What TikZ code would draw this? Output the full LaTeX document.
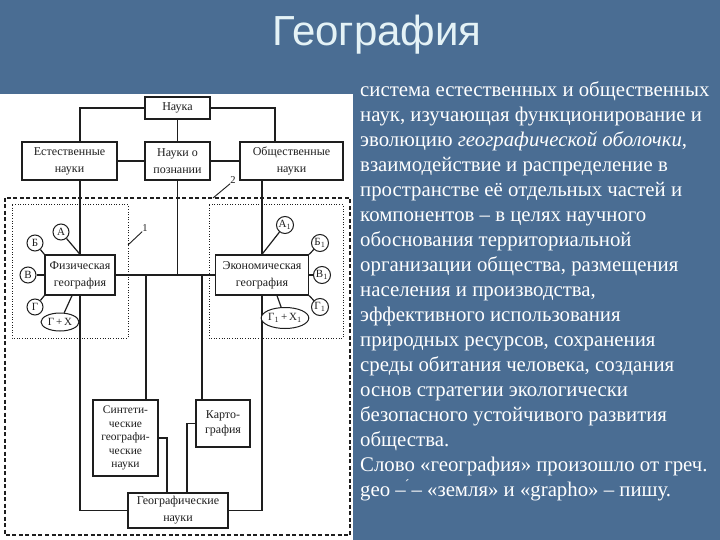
\documentclass[tikz,border=0pt]{standalone}
\usepackage{fontspec}
\setmainfont{Liberation Serif}
\newfontfamily\titlefont{Liberation Sans}
\usetikzlibrary{calc,shapes.geometric}
\definecolor{bg}{HTML}{4A6D93}
\definecolor{titlec}{HTML}{E4F2F6}
\definecolor{ink}{HTML}{1E1E1E}
\begin{document}
\begin{tikzpicture}[x=1pt,y=-1pt,
  box/.style={draw=ink, line width=1.3pt, fill=white, align=center, text=ink,
    font=\fontsize{12}{17}\selectfont, inner sep=1pt},
  conn/.style={draw=ink, line width=1.2pt},
  lett/.style={circle, draw=ink, line width=1pt, fill=white, minimum size=16pt,
    inner sep=0pt, text=ink, font=\fontsize{11}{12}\selectfont},
  ell/.style={ellipse, draw=ink, line width=1pt, fill=white, inner sep=0pt, text=ink,
    font=\fontsize{11}{12}\selectfont},
  outer/.style={draw=ink, line width=1.3pt, dash pattern=on 4pt off 2.5pt},
  inner/.style={draw=ink, line width=1pt, dash pattern=on 1pt off 1.6pt},
  num/.style={text=ink, font=\fontsize{10.5}{12}\selectfont, inner sep=0pt},
  body/.style={anchor=base west, text=white, font=\fontsize{20.8}{25}\selectfont, inner sep=0pt}]

% background
\fill[bg] (0,0) rectangle (720,540);
\useasboundingbox (0,0) rectangle (720,540);
\fill[white] (0,94) rectangle (353,540);

% title
\node[anchor=base west, text=titlec, inner sep=0pt, font=\titlefont\fontsize{42}{46}\selectfont] (title) at (272,46) {География};

% frames
\draw[outer] (5,198) rectangle (350,535);
\draw[inner] (12,205) rectangle (128,338);
\draw[inner] (209,205) rectangle (343,338);

% boxes
\node[box, minimum width=65pt, minimum height=22pt] (nauka) at (177.5,108) {Наука};
\node[box, minimum width=95pt, minimum height=38pt] (estest) at (69.5,161) {Естественные\\науки};
\node[box, minimum width=65pt, minimum height=38pt] (poz) at (177.5,161) {Науки о\\познании};
\node[box, minimum width=103pt, minimum height=38pt] (obsch) at (291.5,161) {Общественные\\науки};
\node[box, minimum width=70pt, minimum height=40pt] (phys) at (80,275) {Физическая\\география};
\node[box, minimum width=93pt, minimum height=40pt] (econ) at (262,275) {Экономическая\\география};
\node[box, minimum width=65pt, minimum height=76pt, font=\fontsize{11.5}{13.5}\selectfont] (synt) at (125.5,438) {Синтети-\\ческие\\географи-\\ческие\\науки};
\node[box, minimum width=54pt, minimum height=47pt, font=\fontsize{12}{14.5}\selectfont] (karto) at (223,423.5) {Карто-\\графия};
\node[box, minimum width=100pt, minimum height=35pt] (geo) at (178,510.5) {Географические\\науки};

% junction coordinates
\coordinate (j1) at (146,275);
\coordinate (j2) at (202,275);
\coordinate (nr) at (275,108);

% connectors
\draw[conn] (nauka.west) -| (phys.north |- estest.north);
\draw[conn] (nauka.east) -- (nr) -- (nr |- obsch.north);
\draw[conn] (nauka.south) -- (poz.north);
\draw[conn] (estest.east) -- (poz.west);
\draw[conn] (poz.east) -- (obsch.west);
\draw[conn] (phys.north |- estest.south) -- (phys.north);
\draw[conn] (econ.north |- obsch.south) -- (econ.north);
\draw[conn] (poz.south) -- (poz.south |- phys.east);
\draw[conn] (phys.east) -- (econ.west);
\draw[conn] (j1) -- (j1 |- synt.north);
\draw[conn] (j2) -- (j2 |- karto.north);
\draw[conn] (phys.south) -- (phys.south |- geo.west) -- (geo.west);
\draw[conn] (econ.south) -- (econ.south |- geo.east) -- (geo.east);
\draw[conn] (synt.east) -| ($(geo.north)+(-11,0)$);
\draw[conn] (karto.west) -| ($(geo.north)+(9,0)$);

% physical geography components
\node[lett] (pa) at (61,232) {А};
\node[lett] (pb) at (35,243) {Б};
\node[lett] (pv) at (28,275) {В};
\node[lett] (pg) at (35,307) {Г};
\node[ell, minimum width=38pt, minimum height=18pt] (pgx) at (60,322) {Г\,+\,Х};
\draw[conn] (pa) -- (phys.north);
\draw[conn] (pb) -- (phys.north west);
\draw[conn] (pv) -- (phys.west);
\draw[conn] (pg) -- (phys.south west);
\draw[conn] (pgx) -- ($(phys.south)+(-8,0)$);

% economic geography components
\node[lett, minimum size=17pt] (ea) at (285,225) {А$_1$};
\node[lett, minimum size=17pt] (eb) at (320,243) {Б$_1$};
\node[lett, minimum size=17pt] (ev) at (322,275) {В$_1$};
\node[lett, minimum size=17pt] (eg) at (320,307) {Г$_1$};
\node[ell, minimum width=42pt, minimum height=21pt] (egx) at (285,318) {Г$_1$\,+\,Х$_1$};
\draw[conn] (ea) -- (econ.north);
\draw[conn] (eb) -- (econ.north east);
\draw[conn] (ev) -- (econ.east);
\draw[conn] (eg) -- (econ.south east);
\draw[conn] (egx) -- ($(econ.south)+(15,0)$);

% labels 1 and 2
\node[num] (l1) at (145,228) {1};
\node[num] (l2) at (233,180) {2};
\coordinate (l1s) at (128,245);
\coordinate (l2s) at (213,198);
\draw[ink, line width=0.9pt] (l1s) -- (l1.south west);
\draw[ink, line width=0.9pt] (l2s) -- (l2.south west);

% right text
\node[body] (t1) at (360,96.5) {система естественных и общественных};
\node[body] (t2) at (360,121.5) {наук, изучающая функционирование и};
\node[body] (t3) at (360,146.5) {эволюцию \textit{географической оболочки},};
\node[body] (t4) at (360,171.5) {взаимодействие и распределение в};
\node[body] (t5) at (360,196.5) {пространстве её отдельных частей и};
\node[body] (t6) at (360,221.5) {компонентов – в целях научного};
\node[body] (t7) at (360,246.5) {обоснования территориальной};
\node[body] (t8) at (360,271.5) {организации общества, размещения};
\node[body] (t9) at (360,296.5) {населения и производства,};
\node[body] (t10) at (360,321.5) {эффективного использования};
\node[body] (t11) at (360,346.5) {природных ресурсов, сохранения};
\node[body] (t12) at (360,371.5) {среды обитания человека, создания};
\node[body] (t13) at (360,396.5) {основ стратегии экологически};
\node[body] (t14) at (360,421.5) {безопасного устойчивого развития};
\node[body] (t15) at (360,446.5) {общества.};
\node[body] (t16) at (360,471.5) {Слово «география» произошло от греч.};
\node[body] (t17) at (360,496.5) {geo –\kern-0.05em\raisebox{0.35em}{\fontsize{14}{14}\selectfont ´}\kern0.1em – «земля» и «grapho» – пишу.};
\end{tikzpicture}
\end{document}
